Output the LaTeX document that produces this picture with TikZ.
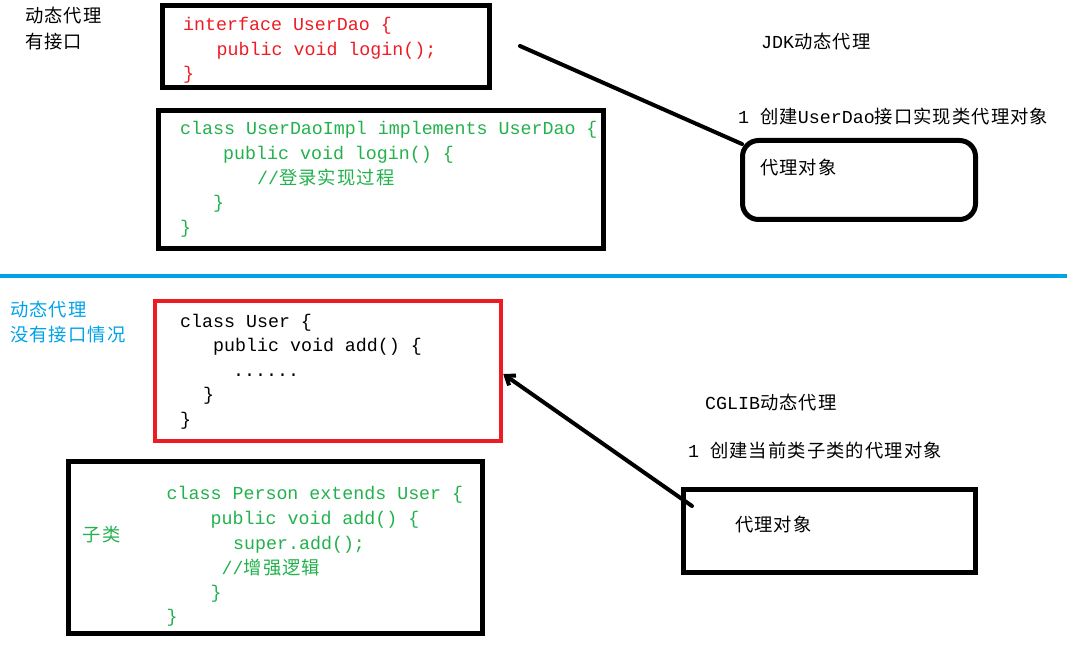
\documentclass[tikz,border=0pt]{standalone}
\usepackage{fontspec}
\setmonofont{Liberation Mono}
\newfontfamily\cjk[LetterSpace=6]{Noto Sans CJK SC}
\usetikzlibrary{arrows.meta}
\definecolor{paintred}{HTML}{ED1C24}
\definecolor{paintgreen}{HTML}{22B14C}
\definecolor{paintblue}{HTML}{00A2E8}
\newcommand{\zh}[1]{{\cjk #1}}

\tikzset{
    txt/.style={anchor=base west, inner sep=0pt, font=\fontsize{18.3}{22}\selectfont\ttfamily},
    codebox/.style={draw, line width=5pt, inner sep=0pt},
    link/.style={line width=4pt, line cap=round},
}

\begin{document}
\begin{tikzpicture}[x=1pt,y=-1pt]
    \useasboundingbox (0,0) rectangle (1067,652);

    % Cadres
    \node[codebox, minimum width=326.5pt, minimum height=81.7pt] (ifacebox) at (325.75,46.65) {};
    \node[codebox, minimum width=444.5pt, minimum height=137.5pt] (implbox) at (380.75,179.25) {};
    \node[codebox, rounded corners=16pt, minimum width=233pt, minimum height=79pt] (jdkproxy) at (859,180) {};
    \node[codebox, draw=paintred, line width=4.5pt, minimum width=346pt, minimum height=140pt] (userbox) at (328,371) {};
    \node[codebox, minimum width=414pt, minimum height=172pt] (personbox) at (275.5,547.5) {};
    \node[codebox, minimum width=292pt, minimum height=83pt] (cglibproxy) at (829.5,531) {};

    % Ligne de séparation
    \draw[paintblue, line width=4.7pt] (0,276) -- (1067,276);

    % Titres à gauche
    \node[txt] (withif1) at (25,22.5) {\zh{动态代理}};
    \node[txt] (withif2) at (25,48.5) {\zh{有接口}};
    \node[txt, paintblue] (noif1) at (10,316) {\zh{动态代理}};
    \node[txt, paintblue] (noif2) at (10,341.5) {\zh{没有接口情况}};

    % Interface
    \node[txt, paintred] (iface1) at (183,31) {interface UserDao \{};
    \node[txt, paintred] (iface2) at (216.5,55.5) {public void login();};
    \node[txt, paintred] (iface3) at (183,80) {\}};

    % Implémentation
    \node[txt, paintgreen] (impl1) at (180,135) {class UserDaoImpl implements UserDao \{};
    \node[txt, paintgreen] (impl2) at (223,160) {public void login() \{};
    \node[txt, paintgreen] (impl3) at (257,185) {//\zh{登录实现过程}};
    \node[txt, paintgreen] (impl4) at (213,209) {\}};
    \node[txt, paintgreen] (impl5) at (180,233.5) {\}};

    % Proxy JDK
    \node[txt] (jdktitle) at (761,48.7) {JDK\zh{动态代理}};
    \node[txt] (jdkstep) at (738,123.5) {1 \zh{创建}UserDao\zh{接口实现类代理对象}};
    \node[txt] (jdklabel) at (760,174.5) {\zh{代理对象}};

    % Classe User
    \node[txt] (user1) at (180,327) {class User \{};
    \node[txt] (user2) at (213,351.5) {public void add() \{};
    \node[txt] (user3) at (233,376) {......};
    \node[txt] (user4) at (203,400.5) {\}};
    \node[txt] (user5) at (180,425) {\}};

    % Sous-classe
    \node[txt, paintgreen] (sub) at (82.5,541.3) {\zh{子类}};
    \node[txt, paintgreen] (person1) at (166.5,499.3) {class Person extends User \{};
    \node[txt, paintgreen] (person2) at (210.5,524) {public void add() \{};
    \node[txt, paintgreen] (person3) at (233,549) {super.add();};
    \node[txt, paintgreen] (person4) at (221.5,574.5) {//\zh{增强逻辑}};
    \node[txt, paintgreen] (person5) at (210.5,598) {\}};
    \node[txt, paintgreen] (person6) at (166.5,622.7) {\}};

    % Proxy CGLIB
    \node[txt] (cglibtitle) at (705,409.5) {CGLIB\zh{动态代理}};
    \node[txt] (cglibstep) at (688,457.5) {1 \zh{创建当前类子类的代理对象}};
    \node[txt] (cgliblabel) at (735,531) {\zh{代理对象}};

    % Liens
    \coordinate (jdkfrom) at (520,46);
    \draw[link] (jdkfrom) -- ([shift={(2pt,-6pt)}]jdkproxy.north west);
    \coordinate (cglibfrom) at (692,506);
    \draw[link, -{Straight Barb[length=8pt,width=12pt]}] (cglibfrom) -- ([yshift=-3pt]userbox.east);
\end{tikzpicture}
\end{document}
